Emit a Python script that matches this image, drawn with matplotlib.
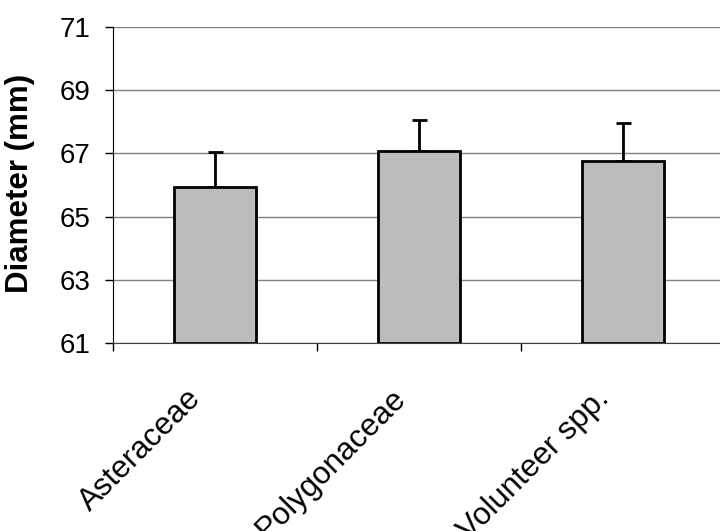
import numpy as np
import matplotlib
matplotlib.use("Agg")
from matplotlib import pyplot as plt

# values
families = ["Asteraceae", "Polygonaceae", "Volunteer spp."]
diameter = [65.93, 67.07, 66.76]
std_err = [1.13, 1.00, 1.19]
yticks = [61, 63, 65, 67, 69, 71]

plt.rcParams['font.family'] = ['Liberation Sans', 'DejaVu Sans']

fig = plt.figure(figsize=(7.2, 5.31), dpi=100)
ax = fig.add_axes([0.157, 0.354, 0.85, 0.595])

x = np.arange(len(families))
ax.bar(x, [d - 61 for d in diameter], bottom=61, width=0.4,
       color="#bcbcbc", edgecolor="black", linewidth=2, zorder=3)
ax.errorbar(x, diameter, yerr=[[0] * len(x), std_err], fmt="none",
            ecolor="black", elinewidth=2, capsize=5.4, capthick=2, zorder=2)

ax.set_ylim(61, 71)
ax.set_yticks(yticks)
ax.set_yticklabels([str(t) for t in yticks], fontsize=20)
ax.yaxis.grid(True, color="#808080", linewidth=1)
ax.set_axisbelow(True)
ax.set_ylabel("Diameter (mm)", fontsize=22.5, fontweight="bold")
ax.yaxis.set_label_coords(-0.128, 0.505)

ax.set_xlim(-0.5, 2.5)
ax.set_xticks([-0.5, 0.5, 1.5, 2.5])
ax.set_xticklabels([])
ax.tick_params(axis="x", length=6, width=1, direction="out")
ax.tick_params(axis="y", length=6, width=1, direction="out", pad=10)
for i, name in enumerate(families):
    ax.text(i - 0.14, 59.72, name, rotation=45, ha="right", va="top",
            rotation_mode="anchor", fontsize=22.5)

for s in ["top", "right"]:
    ax.spines[s].set_visible(False)
ax.spines["left"].set_color("black")
ax.spines["bottom"].set_color("#404040")

fig.savefig("out.png", dpi=100)
